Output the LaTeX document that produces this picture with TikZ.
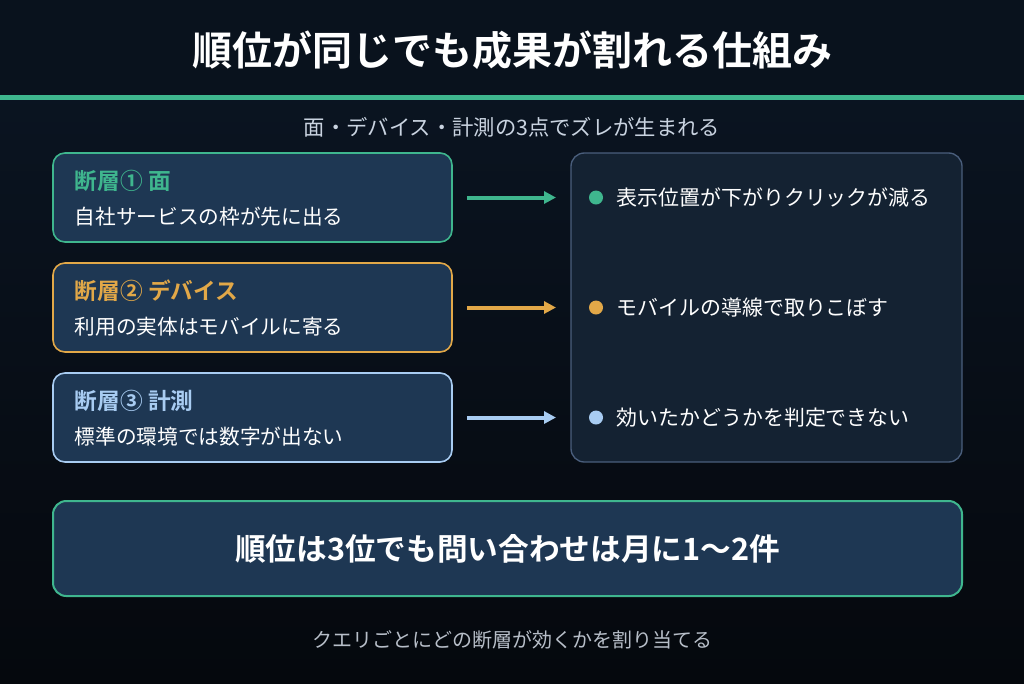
\documentclass[tikz,border=0pt]{standalone}
\usepackage{fontspec}
\setmainfont{Noto Sans CJK JP}
\newfontfamily\jpb{Noto Sans CJK JP Bold}
\usetikzlibrary{positioning,arrows.meta}
\definecolor{bgtop}{HTML}{0B1624}
\definecolor{bgbot}{HTML}{05080D}
\definecolor{teal}{HTML}{3FB68E}
\definecolor{amber}{HTML}{E2A848}
\definecolor{sky}{HTML}{A8CCF2}
\definecolor{boxfill}{HTML}{1E3753}
\definecolor{panel}{HTML}{142232}
\definecolor{panelline}{HTML}{4A5E7C}
\definecolor{soft}{HTML}{C9D3E0}
\tikzset{
	layer/.style={draw=#1,line width=1.2pt,fill=boxfill,rounded corners=9pt,minimum width=399*0.75pt,minimum height=89*0.75pt},
	flow/.style={line width=3pt,draw=#1,-{Triangle[length=9pt,width=9pt]},shorten >=0pt},
	dot/.style={circle,fill=#1,inner sep=0pt,minimum size=10.5pt},
}
\begin{document}
\begin{tikzpicture}[x=0.75pt,y=-0.75pt]
\useasboundingbox (0,0) rectangle (1024,683);
\shade[top color=bgtop,bottom color=bgbot] (0,0) rectangle (1024,683);
\fill[bgtop!80!black] (0,0) rectangle (1024,95);
\fill[teal] (0,95) rectangle (1024,100);

%Titre
\node (title) at (512,50) {\jpb\fontsize{30}{30}\selectfont\color{white}順位が同じでも成果が割れる仕組み};
\node (sub) at (512,127) {\fontsize{16}{16}\selectfont\color{soft}面・デバイス・計測の3点でズレが生まれる};

%断層
\node[layer=teal] (l1) at (252.5,197.5) {};
\node[layer=amber] (l2) at (252.5,307.5) {};
\node[layer=sky] (l3) at (252.5,417.5) {};
\foreach \n/\c/\h/\t in {l1/teal/断層① 面/自社サービスの枠が先に出る,
	l2/amber/断層② デバイス/利用の実体はモバイルに寄る,
	l3/sky/断層③ 計測/標準の環境では数字が出ない}{
	\node[anchor=west,text=\c,font=\jpb\fontsize{17}{17}\selectfont] at ([xshift=18*0.75pt,yshift=17*0.75pt]\n.west) {\h};
	\node[anchor=west,text=white,font=\fontsize{15.5}{15.5}\selectfont] at ([xshift=18*0.75pt,yshift=-19*0.75pt]\n.west) {\t};
}

%Panneau
\node[draw=panelline,line width=1pt,fill=panel,rounded corners=10pt,minimum width=391*0.75pt,minimum height=309*0.75pt] (res) at (766.5,307.5) {};
\coordinate (e1) at (556,197.5);
\coordinate (e2) at (556,307.5);
\coordinate (e3) at (556,417.5);
\foreach \n/\c/\t in {1/teal/表示位置が下がりクリックが減る,2/amber/モバイルの導線で取りこぼす,3/sky/効いたかどうかを判定できない}{
	\draw[flow=\c] ([xshift=14*0.75pt]l\n.east) -- (e\n);
	\node[dot=\c] (d\n) at ([xshift=40*0.75pt]e\n) {};
	\node[anchor=west,text=white,font=\fontsize{15.7}{15.7}\selectfont,right=6.5pt of d\n] {\t};
}

%Conclusion
\node[draw=teal,line width=1.5pt,fill=boxfill,rounded corners=10pt,minimum width=909*0.75pt,minimum height=95*0.75pt] (sum) at (507.5,548.5) {};
\node at (sum) {\jpb\fontsize{23}{23}\selectfont\color{white}順位は3位でも問い合わせは月に1〜2件};
\node (foot) at (512,640) {\fontsize{15}{15}\selectfont\color{soft!75!gray}クエリごとにどの断層が効くかを割り当てる};
\end{tikzpicture}
\end{document}
